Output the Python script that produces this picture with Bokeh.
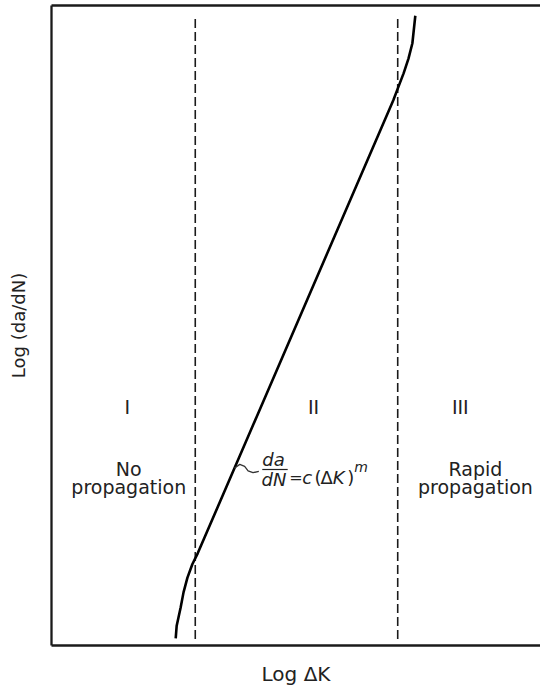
import math
from bokeh.plotting import figure
from bokeh.models import Range1d, Label, LinearAxis, FixedTicker
from bokeh.embed import file_html
from bokeh.resources import INLINE

# --- data (schematic, arbitrary log units) ---
curve_x = [2.54, 2.56, 2.60, 2.64, 2.70, 2.78, 2.88, 2.99, 6.99, 7.10, 7.20, 7.30, 7.38, 7.44]
curve_y = [0.11, 0.31, 0.45, 0.59, 0.83, 1.06, 1.27, 1.44, 8.52, 8.74, 8.94, 9.17, 9.41, 9.84]
boundary_x = [2.94, 7.08]
boundary_y0 = 0.10
boundary_y1 = 9.85
region_numerals = ["I", "II", "III"]
region_names = [["No", "propagation"], [], ["Rapid", "propagation"]]
leader_x = [3.74, 3.85, 3.95, 4.02, 4.12, 4.24]
leader_y = [2.77, 2.83, 2.80, 2.73, 2.70, 2.72]
x_title = "Log ΔK"
y_title = "Log (da/dN)"

FONT = "DejaVu Sans"
INK = "#1a1a1a"
DY = 0.1  # baseline compensation for label rendering

p = figure(width=540, height=688, output_backend="svg", toolbar_location=None,
           x_range=Range1d(0, 10), y_range=Range1d(0, 10),
           min_border_left=51, min_border_right=0, min_border_top=5, min_border_bottom=43)
p.grid.visible = False
p.outline_line_color = None

def bare(ax):
    ax.ticker = FixedTicker(ticks=[])
    ax.major_tick_out = 0
    ax.major_tick_in = 0
    ax.minor_tick_out = 0
    ax.minor_tick_in = 0
    ax.major_label_text_font_size = "0px"
    ax.major_label_standoff = 0
    ax.axis_line_width = 2.3
    ax.axis_line_color = INK
    ax.axis_label_text_font = FONT
    ax.axis_label_text_font_style = "normal"
    ax.axis_label_text_color = "#222222"

bare(p.xaxis[0])
bare(p.yaxis[0])
p.xaxis[0].axis_label = x_title
p.xaxis[0].axis_label_text_font_size = "20px"
p.xaxis[0].axis_label_standoff = 16
p.yaxis[0].axis_label = y_title
p.yaxis[0].axis_label_text_font_size = "18px"
p.yaxis[0].axis_label_standoff = 23

top = LinearAxis()
bare(top)
p.add_layout(top, "above")

# region boundaries
for bx in boundary_x:
    p.segment(x0=[bx], y0=[boundary_y0], x1=[bx], y1=[boundary_y1],
              line_color=INK, line_width=1.6, line_dash="9 4")

# crack growth curve
p.line(curve_x, curve_y, line_color="#000000", line_width=2.6)
# leader from curve to equation
p.line(leader_x, leader_y, line_color="#333333", line_width=1.3)

def lab(x, y, text, align="center", italic=False, size="19px"):
    p.add_layout(Label(x=x, y=y + DY, text=text, text_font=FONT, text_font_size=size,
                       text_align=align, text_baseline="alphabetic",
                       text_font_style="italic" if italic else "normal",
                       text_color="#222222"))

# region numerals and names
num_x = [1.55, 5.36, 8.36]
name_x = [1.58, None, 8.67]
for nx, txt in zip(num_x, region_numerals):
    lab(nx, 3.625, txt)
for nx, names in zip(name_x, region_names):
    if names:
        lab(nx, 2.656, names[0])
        lab(nx, 2.375, names[1])

# formula da/dN = c (ΔK)^m
lab(4.54, 2.81, "da", italic=True, size="18px")
lab(4.55, 2.50, "dN", italic=True, size="18px")
p.segment(x0=[4.31], y0=[2.75], x1=[4.83], y1=[2.75], line_color="#222222", line_width=1.2)
lab(4.86, 2.53, "=", align="left", size="16px")
lab(5.13, 2.53, "c", align="left", italic=True, size="18px")
lab(5.38, 2.53, "(", align="left", size="18px")
lab(5.50, 2.53, "Δ", align="left", size="18px")
lab(5.75, 2.53, "K", align="left", italic=True, size="18px")
lab(6.05, 2.53, ")", align="left", size="18px")
lab(6.19, 2.69, "m", align="left", italic=True, size="14px")

open("out.html", "w").write(file_html(p, INLINE))
